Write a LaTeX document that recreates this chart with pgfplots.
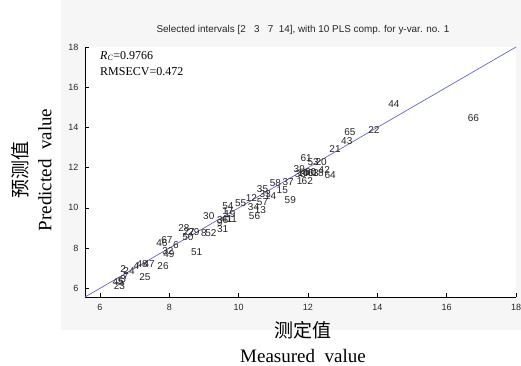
\documentclass[border=0pt]{standalone}
\usepackage{pgfplots}
\pgfplotsset{compat=1.18}
\usepackage{fontspec}
\setmainfont{Liberation Serif}
\newfontfamily\arial{Liberation Sans}
\newfontfamily\cjk{Noto Sans CJK SC}
\definecolor{figbg}{RGB}{246,246,246}
\definecolor{fitline}{RGB}{100,100,205}
\begin{document}
\begin{tikzpicture}[x=1pt,y=1pt]
\path[use as bounding box] (0,0) rectangle (521,366);
\fill[figbg] (61,36) rectangle (521,366);
\begin{axis}[
  at={(85pt,69pt)}, anchor=south west,
  scale only axis, width=431pt, height=250pt,
  xmin=5.57, xmax=18, ymin=5.57, ymax=18,
  axis background/.style={fill=white},
  axis x line=bottom, axis y line=left,
  axis line style={-, black, line width=0.8pt},
  tick align=inside, major tick length=4pt,
  tick style={black, line width=0.6pt},
  xtick={6,8,...,18}, ytick={6,8,...,18},
  /pgf/number format/assume math mode=true,
  tick label style={font=\arial\fontsize{9}{9}\selectfont, text=black!85},
  xticklabel style={yshift=-4pt},
  yticklabel style={xshift=-3pt},
  clip=false,
]
\addplot[fitline, line width=0.7pt] coordinates {(5.57,5.57) (18,18)};
\addplot[draw=none, mark=none, nodes near coords, point meta=explicit symbolic,
  nodes near coords style={anchor=center, inner sep=0pt, font=\arial\fontsize{10}{10}\selectfont, text=black!85}]
  table[meta=label] {
x y label
14.48 15.15 44
16.77 14.45 66
13.90 13.85 22
13.21 13.75 65
13.12 13.30 43
12.78 12.95 21
11.95 12.50 61
12.15 12.30 53
12.38 12.30 20
12.47 11.90 42
12.64 11.65 64
11.75 11.95 39
11.78 11.70 38
11.86 11.75 10
12.01 11.75 40
12.15 11.75 63
12.29 11.72 18
12.08 11.80 60
11.76 11.35 1
11.98 11.35 62
11.06 11.25 58
11.43 11.30 37
11.26 10.90 15
11.49 10.40 59
10.69 10.95 35
10.77 10.70 33
10.92 10.60 14
10.37 10.50 12
10.69 10.30 57
10.06 10.25 55
10.43 10.05 34
10.63 9.90 13
10.46 9.60 56
9.69 10.10 54
9.69 9.85 17
9.75 9.70 19
9.14 9.60 30
9.54 9.40 36
9.66 9.45 41
9.80 9.45 11
9.45 9.25 9
9.54 8.95 31
9.20 8.75 52
9.00 8.75 8
8.42 9.00 28
8.71 8.80 29
8.57 8.80 27
8.54 8.55 50
8.79 7.80 51
7.79 8.25 46
7.93 8.40 67
8.19 8.15 6
7.99 7.70 49
7.96 7.85 32
7.82 7.10 26
7.42 7.20 47
7.22 7.20 48
7.05 7.10 4
6.84 6.85 24
6.67 6.95 2
7.30 6.55 25
6.53 6.30 45
6.56 6.10 23
6.67 6.45 3
6.60 6.35 5
6.75 6.60 7
};
\end{axis}
\node[font=\arial\fontsize{9.9}{10}\selectfont, text=black!85] at (303,336) {Selected intervals [2\ \ \ 3\ \ \ 7\ \ 14], with 10 PLS comp. for y-var. no. 1};
\node[anchor=west, font=\fontsize{12}{12}\selectfont, inner sep=0pt] at (100,310) {\textit{R}\textsubscript{\textit{C}}=0.9766};
\node[anchor=west, font=\fontsize{12}{12}\selectfont, inner sep=0pt] at (100,294) {RMSECV=0.472};
\node[font=\cjk\fontsize{19}{19}\selectfont] at (303,36) {测定值};
\node[font=\fontsize{19}{19}\selectfont] at (303,10) {Measured\ \ value};
\node[rotate=90, font=\cjk\fontsize{19}{19}\selectfont] at (20,196) {预测值};
\node[rotate=90, font=\fontsize{19}{19}\selectfont] at (45,196) {Predicted\ \ value};
\end{tikzpicture}
\end{document}
